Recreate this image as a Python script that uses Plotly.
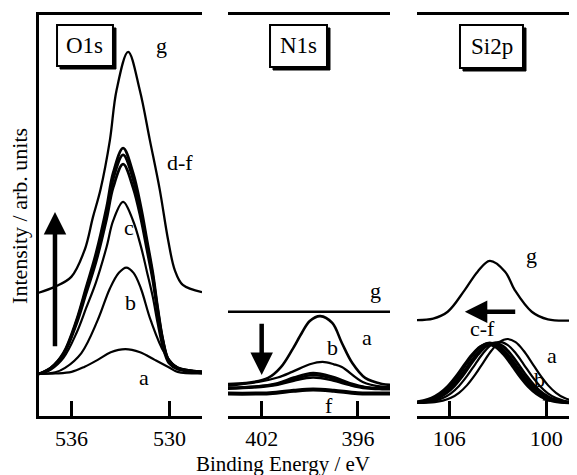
import plotly.graph_objects as go

# ---------------- O1s panel (binding energy / eV, intensity / arb. units) -------------
o1s_a_E = [538.0, 537.0, 536.0, 535.2, 534.4, 533.6, 532.7, 531.8, 530.9, 530.1, 529.5, 528.0]
o1s_a_I = [10.5, 10.6, 11.0, 12.3, 14.0, 15.9, 16.7, 15.9, 14.0, 12.3, 11.0, 10.6]

o1s_b_E = [538.0, 537.0, 536.4, 535.4, 534.4, 533.65, 533.1, 532.65, 532.2, 531.75, 531.15, 530.3, 529.5, 528.0]
o1s_b_I = [10.5, 10.9, 12.0, 15.7, 23.9, 31.8, 35.7, 37.0, 35.7, 31.8, 23.9, 15.7, 12.0, 10.6]

o1s_cf_E = [538.0, 537.27, 536.5, 535.7, 535.1, 534.5, 533.85, 533.45, 532.84,
            532.23, 531.75, 531.38, 531.02, 530.72, 530.4, 530.05, 529.5, 528.0]
o1s_c_I = [10.5, 11.6, 14.5, 20.7, 27.0, 33.4, 42.2, 48.7, 53.4,
           48.7, 42.3, 36.0, 29.7, 23.1, 17.0, 13.2, 11.6, 10.9]
o1s_d_I = [10.5, 12.0, 15.7, 23.9, 32.2, 40.6, 52.1, 60.6, 66.8,
           60.6, 52.2, 43.9, 35.7, 27.0, 19.0, 14.0, 12.0, 11.0]
o1s_e_I = [10.5, 12.0, 15.5, 23.5, 31.6, 39.7, 50.9, 59.1, 65.1,
           59.1, 51.0, 42.9, 34.9, 26.5, 18.8, 13.9, 12.0, 11.0]
o1s_f_I = [10.5, 11.9, 15.3, 23.0, 30.7, 38.5, 49.2, 57.0, 62.8,
           57.0, 49.2, 41.5, 33.9, 25.8, 18.4, 13.8, 11.9, 11.0]

o1s_g_E = [538.06, 537.04, 536.02, 535.2, 534.69, 534.23, 533.65, 533.24, 532.53,
           531.82, 531.2, 530.59, 530.08, 529.67, 529.18, 528.0]
o1s_g_I = [30.7, 32.2, 34.7, 41.4, 49.6, 56.4, 68.8, 81.3, 90.8,
           81.3, 68.8, 56.4, 43.9, 36.4, 32.7, 30.9]

# ---------------- N1s panel -------------
n1s_a_E = [404.3, 403.0, 401.6, 400.8, 400.1, 399.5, 399.0, 398.35, 397.6, 397.0, 396.35, 395.55, 394.5, 393.7]
n1s_a_I = [8.0, 8.2, 9.5, 12.2, 16.5, 20.7, 23.7, 24.9, 23.2, 18.2, 13.2, 9.5, 8.0, 7.7]
n1s_b_E = [404.3, 402.2, 401.0, 400.1, 399.0, 398.2, 397.5, 397.0, 395.7, 394.5, 393.7]
n1s_b_I = [7.5, 8.5, 9.6, 11.0, 12.9, 13.5, 12.9, 12.2, 8.5, 7.3, 7.2]
n1s_cde_E = [404.3, 402.5, 401.0, 400.0, 398.8, 397.6, 396.5, 395.5, 394.5, 393.7]
n1s_c_I = [7.0, 7.3, 8.2, 9.6, 10.7, 9.8, 8.2, 7.2, 6.9, 6.9]
n1s_d_I = [7.0, 7.3, 8.0, 9.2, 10.2, 9.4, 7.9, 7.1, 6.9, 6.9]
n1s_e_I = [6.8, 7.1, 7.8, 8.8, 9.6, 8.9, 7.7, 6.9, 6.7, 6.7]
n1s_f_E = [404.3, 401.5, 400.0, 398.8, 397.5, 396.0, 393.7]
n1s_f_I = [5.6, 5.7, 6.3, 6.6, 6.3, 5.7, 5.6]
n1s_g_E = [404.3, 393.7]
n1s_g_I = [26.0, 26.0]

# ---------------- Si2p panel -------------
si_a_E = [108.4, 106.9, 106.4, 105.9, 105.4, 104.9, 104.4, 103.9, 103.4, 102.9, 102.4,
          101.9, 101.4, 100.9, 100.4, 99.9, 99.4, 98.9, 98.4, 97.9, 96.4]
si_a_I = [3.2, 3.46, 3.82, 4.53, 5.78, 7.70, 10.30, 13.34, 16.26, 18.42, 19.2,
          18.42, 16.26, 13.34, 10.30, 7.70, 5.78, 4.53, 3.82, 3.46, 3.2]
si_b_E = [108.9, 107.4, 106.9, 106.4, 105.9, 105.4, 104.9, 104.4, 103.9, 103.4, 102.9,
          102.4, 101.9, 101.4, 100.9, 100.4, 99.9, 99.4, 98.9, 98.4, 96.9]
si_b_I = [3.2, 3.45, 3.80, 4.47, 5.66, 7.50, 9.99, 12.90, 15.69, 17.75, 18.5,
          17.75, 15.69, 12.90, 9.99, 7.50, 5.66, 4.47, 3.80, 3.45, 3.2]
si_c_E = [109.2, 107.7, 107.2, 106.7, 106.2, 105.7, 105.2, 104.7, 104.2, 103.7, 103.2,
          102.7, 102.2, 101.7, 101.2, 100.7, 100.2, 99.7, 99.2, 98.7, 97.2]
si_c_I = [3.2, 3.45, 3.79, 4.45, 5.62, 7.42, 9.86, 12.71, 15.44, 17.47, 18.2,
          17.47, 15.44, 12.71, 9.86, 7.42, 5.62, 4.45, 3.79, 3.45, 3.2]
si_d_E = [109.35, 107.85, 107.35, 106.85, 106.35, 105.85, 105.35, 104.85, 104.35, 103.85, 103.35,
          102.85, 102.35, 101.85, 101.35, 100.85, 100.35, 99.85, 99.35, 98.85, 97.35]
si_d_I = [3.2, 3.44, 3.77, 4.42, 5.57, 7.33, 9.73, 12.52, 15.20, 17.18, 17.9,
          17.18, 15.20, 12.52, 9.73, 7.33, 5.57, 4.42, 3.77, 3.44, 3.2]
si_e_E = [109.5, 108.0, 107.5, 107.0, 106.5, 106.0, 105.5, 105.0, 104.5, 104.0, 103.5,
          103.0, 102.5, 102.0, 101.5, 101.0, 100.5, 100.0, 99.5, 99.0, 97.5]
si_e_I = [3.2, 3.45, 3.79, 4.45, 5.62, 7.42, 9.86, 12.71, 15.44, 17.47, 18.2,
          17.47, 15.44, 12.71, 9.86, 7.42, 5.62, 4.45, 3.79, 3.45, 3.2]
si_f_E = [109.6, 108.1, 107.6, 107.1, 106.6, 106.1, 105.6, 105.1, 104.6, 104.1, 103.6,
          103.1, 102.6, 102.1, 101.6, 101.1, 100.6, 100.1, 99.6, 99.1, 97.6]
si_f_I = [3.2, 3.44, 3.77, 4.42, 5.57, 7.33, 9.73, 12.52, 15.20, 17.18, 17.9,
          17.18, 15.20, 12.52, 9.73, 7.33, 5.57, 4.42, 3.77, 3.44, 3.2]
si_g_E = [108.2, 107.0, 106.1, 105.05, 104.25, 103.5, 102.55, 101.95, 100.9, 99.9, 98.0]
si_g_I = [23.9, 24.3, 26.0, 31.4, 36.0, 38.7, 36.0, 31.4, 26.0, 24.1, 23.9]

panel_names = ["O1s", "N1s", "Si2p"]
tick_vals = [[536, 530], [402, 396], [106, 100]]
x_ranges = [[538.0, 528.0], [404.1, 394.0], [108.0, 98.1]]

FONT = "Liberation Serif"
fig = go.Figure()

def add(E, I, xa, ya, w=2.0):
    fig.add_trace(go.Scatter(x=E, y=I, mode="lines", xaxis=xa, yaxis=ya,
                             line=dict(color="black", width=w, shape="spline", smoothing=1.0),
                             showlegend=False, hoverinfo="skip"))

# O1s
add(o1s_a_E, o1s_a_I, "x", "y", 2.2)
add(o1s_b_E, o1s_b_I, "x", "y", 2.2)
add(o1s_cf_E, o1s_c_I, "x", "y", 2.2)
add(o1s_cf_E, o1s_f_I, "x", "y", 2.8)
add(o1s_cf_E, o1s_e_I, "x", "y", 2.8)
add(o1s_cf_E, o1s_d_I, "x", "y", 2.8)
add(o1s_g_E, o1s_g_I, "x", "y", 2.3)
# N1s
add(n1s_a_E, n1s_a_I, "x2", "y2", 2.6)
add(n1s_b_E, n1s_b_I, "x2", "y2", 2.3)
add(n1s_cde_E, n1s_c_I, "x2", "y2", 2.5)
add(n1s_cde_E, n1s_d_I, "x2", "y2", 2.5)
add(n1s_cde_E, n1s_e_I, "x2", "y2", 2.5)
add(n1s_f_E, n1s_f_I, "x2", "y2", 4.0)
add(n1s_g_E, n1s_g_I, "x2", "y2", 2.3)
# Si2p
add(si_a_E, si_a_I, "x3", "y3", 2.2)
add(si_b_E, si_b_I, "x3", "y3", 2.2)
add(si_c_E, si_c_I, "x3", "y3", 2.8)
add(si_d_E, si_d_I, "x3", "y3", 2.8)
add(si_e_E, si_e_I, "x3", "y3", 2.8)
add(si_f_E, si_f_I, "x3", "y3", 3.2)
add(si_g_E, si_g_I, "x3", "y3", 2.3)

domains = [[0.0, 0.303], [0.3513, 0.6524], [0.7026, 1.0]]
for i in range(3):
    sfx = "" if i == 0 else str(i + 1)
    fig.update_layout(**{
        "xaxis" + sfx: dict(domain=domains[i], range=x_ranges[i], anchor="y" + sfx,
                            showline=True, linewidth=3, linecolor="black", mirror=True,
                            ticks="inside", ticklen=15, tickwidth=2.5, tickcolor="black",
                            tickvals=tick_vals[i], ticktext=[str(v) for v in tick_vals[i]],
                            showgrid=False, zeroline=False, ticklabelstandoff=1,
                            tickfont=dict(family=FONT, size=22, color="black")),
        "yaxis" + sfx: dict(domain=[0, 1], range=[0, 100], anchor="x" + sfx,
                            showline=(i == 0), linewidth=3, linecolor="black",
                            showticklabels=False, ticks="", showgrid=False, zeroline=False),
    })

# panel-name boxes (drop shadow + framed white box) as shapes, names as annotations
boxes = [  # x0, x1, y0, y1 in paper units
    (0.0335, 0.1375, 0.8728, 0.9751),
    (0.4294, 0.5353, 0.8703, 0.9751),
    (0.7825, 0.8996, 0.8678, 0.9751),
]
dx, dy = 3.0 / 538, 3.0 / 401
shapes = []
for x0, x1, y0, y1 in boxes:
    shapes.append(dict(type="rect", xref="paper", yref="paper", x0=x0 + dx, x1=x1 + dx,
                       y0=y0 - dy, y1=y1 - dy, fillcolor="black", line=dict(color="black", width=1)))
    shapes.append(dict(type="rect", xref="paper", yref="paper", x0=x0, x1=x1, y0=y0, y1=y1,
                       fillcolor="white", line=dict(color="black", width=2)))

ann = []
name_pos = [(0.0855, 0.9239), (0.4823, 0.9227), (0.8411, 0.9214)]
for name, (px, py) in zip(panel_names, name_pos):
    ann.append(dict(text=name, x=px, y=py, xref="paper", yref="paper", showarrow=False,
                    xanchor="center", yanchor="middle",
                    font=dict(family=FONT, size=23, color="black")))

labels = [
    ("g", 530.47, 92.5, "x", "y"), ("d-f", 529.37, 63.1, "x", "y"), ("c", 532.45, 46.9, "x", "y"),
    ("b", 532.37, 28.4, "x", "y"), ("a", 531.57, 9.5, "x", "y"),
    ("g", 394.91, 31.4, "x2", "y2"), ("a", 395.41, 19.5, "x2", "y2"), ("b", 397.6, 17.0, "x2", "y2"),
    ("f", 397.79, 2.7, "x2", "y2"),
    ("g", 100.9, 40.1, "x3", "y3"), ("c-f", 103.93, 21.9, "x3", "y3"), ("a", 99.67, 15.2, "x3", "y3"),
    ("b", 100.41, 9.0, "x3", "y3"),
]
for t, x, y, xr, yr in labels:
    ann.append(dict(text=t, x=x, y=y, xref=xr, yref=yr, showarrow=False,
                    xanchor="center", yanchor="middle",
                    font=dict(family=FONT, size=22, color="black")))

arrows = [
    (537.02, 50.9, 537.02, 17.0, "x", "y", 4.5),
    (402.0, 10.2, 402.0, 23.4, "x2", "y2", 4.5),
    (105.04, 26.0, 101.83, 26.0, "x3", "y3", 4.5),
    (99.73, 3.5, 100.41, 5.7, "x3", "y3", 1.5),
]
for x, y, ax, ay, xr, yr, w in arrows:
    ann.append(dict(text="", x=x, y=y, ax=ax, ay=ay, xref=xr, yref=yr, axref=xr, ayref=yr,
                    showarrow=True, arrowhead=2, arrowsize=1.0, arrowwidth=w, arrowcolor="black",
                    standoff=0))

ann.append(dict(text="Intensity / arb. units", x=-0.0353, y=0.499, xref="paper", yref="paper",
                showarrow=False, textangle=-90, xanchor="center", yanchor="middle",
                font=dict(family=FONT, size=22, color="black")))
ann.append(dict(text="Binding Energy / eV", x=0.4535, y=-0.119, xref="paper", yref="paper",
                showarrow=False, xanchor="center", yanchor="middle",
                font=dict(family=FONT, size=21, color="black")))

# the page body adds an 8 px offset, so the figure is 8 px smaller and margins compensate
fig.update_layout(width=569, height=467, margin=dict(l=31, r=0, t=7, b=59),
                  paper_bgcolor="white", plot_bgcolor="white", annotations=ann, shapes=shapes,
                  font=dict(family=FONT, color="black"))
fig.write_html("out.html")
